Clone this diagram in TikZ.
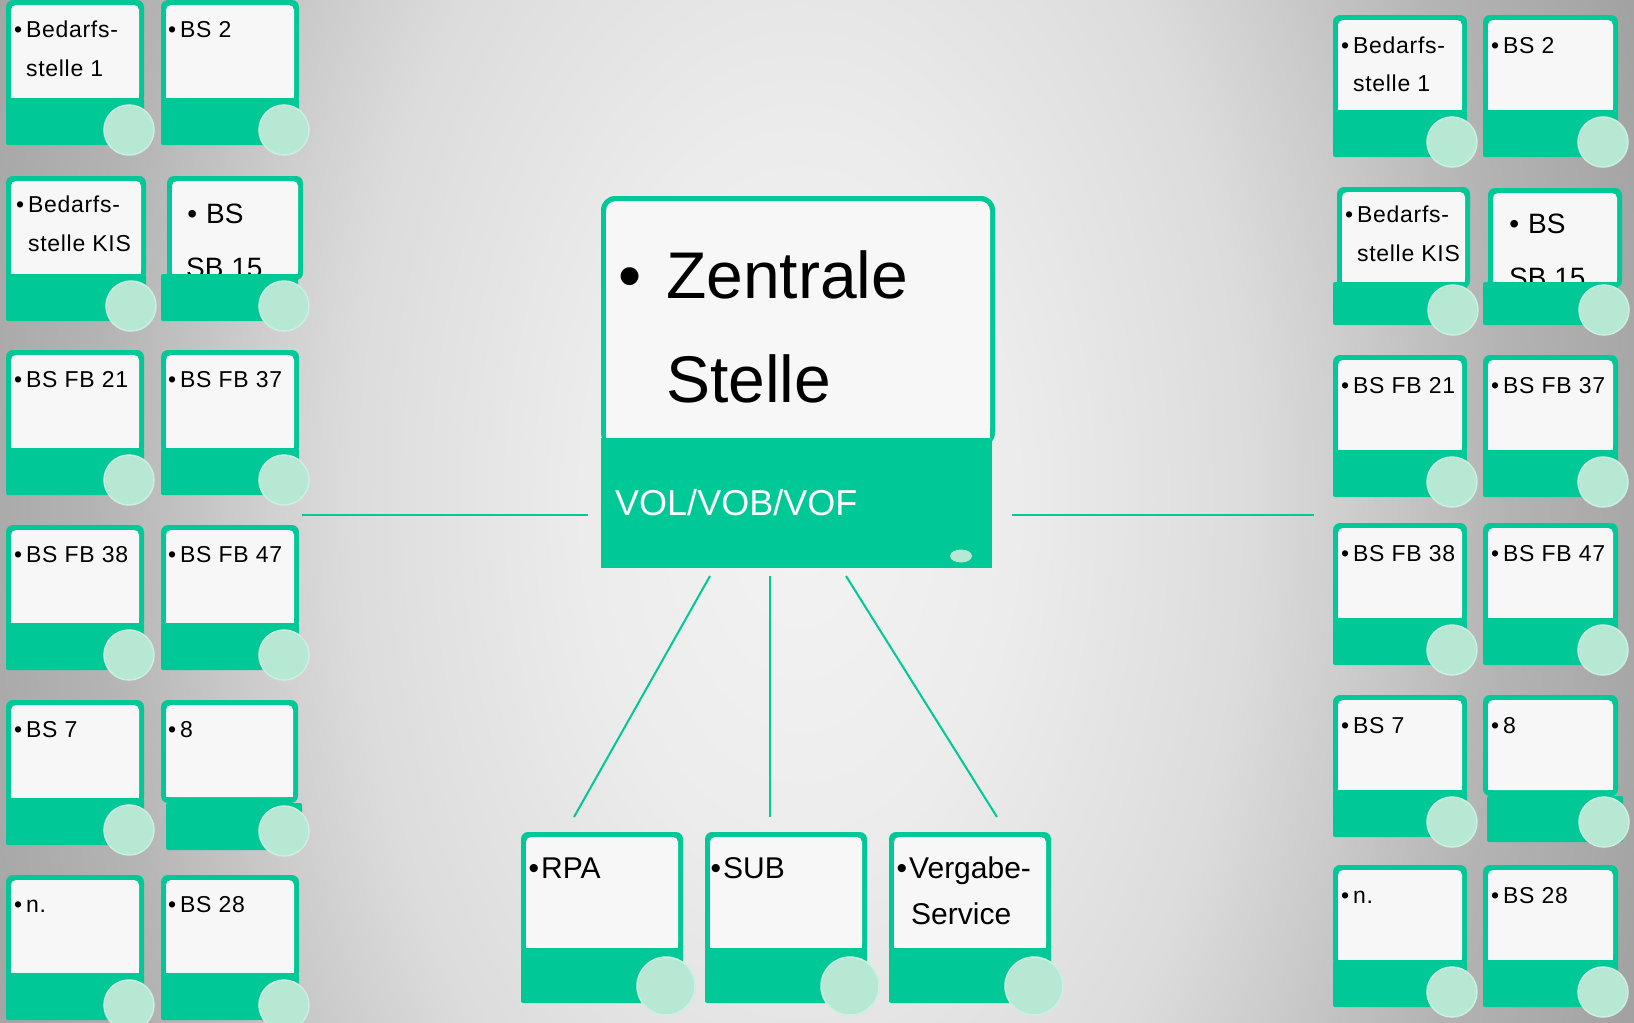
\documentclass[tikz,border=0pt]{standalone}
\usepackage{fontspec}
\setmainfont{Liberation Sans}
\newfontfamily\cardfont[LetterSpace=3.0]{Liberation Sans}
\usetikzlibrary{shapes.geometric}
\definecolor{tealc}{HTML}{00C896}
\definecolor{mintc}{HTML}{B6E8D3}
\definecolor{mintrim}{HTML}{CBEFE0}
\definecolor{cardw}{HTML}{F7F7F7}
\definecolor{bgA}{HTML}{F3F3F3}
\definecolor{bgB}{HTML}{ECECEC}
\definecolor{bgC}{HTML}{DCDCDC}
\definecolor{bgD}{HTML}{CCCCCC}
\definecolor{bgE}{HTML}{B4B4B4}
\definecolor{bgF}{HTML}{A8A8A8}
\definecolor{bgG}{HTML}{A0A0A0}
\pgfdeclareradialshading{bgshade}{\pgfpoint{0bp}{0bp}}{color(0bp)=(bgA); color(6bp)=(bgB); color(12.5bp)=(bgC); color(15.5bp)=(bgD); color(19.5bp)=(bgE); color(23bp)=(bgF); color(25bp)=(bgG); color(50bp)=(bgG)}
\tikzset{
  knob/.style={circle, fill=mintc, draw=mintrim, line width=1.5pt, inner sep=0pt, minimum size=50pt},
  bigknob/.style={knob, minimum size=58pt},
  smalltxt/.style={anchor=base west, inner sep=0pt, font=\cardfont\fontsize{23}{27}\selectfont},
  bigtxt/.style={anchor=base west, inner sep=0pt, font=\fontsize{28}{32}\selectfont},
  midtxt/.style={anchor=base west, inner sep=0pt, font=\fontsize{30}{34}\selectfont},
  conn/.style={draw=tealc, line width=2pt},
}
\newcommand{\topcard}[4]{% x y w white-height
  \fill[tealc, rounded corners=7pt] (#1,#2) rectangle (#1+#3,#2+#4+6);
  \fill[cardw, rounded corners=5pt] (#1+5,#2+5) rectangle (#1+#3-5,#2+#4);
  \fill[cardw] (#1+5,#2+#4-8) rectangle (#1+#3-5,#2+#4);
}
\newcommand{\bandc}[4]{% x1 y1 x2 y2
  \fill[tealc, rounded corners=2pt] (#1,#2) rectangle (#3,#4);
}
\newcommand{\card}[6]{% name x y w h white-height
  \topcard{#2}{#3}{#4}{#6}
  \bandc{#2}{#3+#6}{#2+#4}{#3+#5}
  \node[knob] (#1) at (#2+#4-15,#3+#5-15) {};
}
\newcommand{\bul}{\llap{•\hspace{4pt}}}
\begin{document}
\begin{tikzpicture}[x=1pt,y=-1pt]
\useasboundingbox (0,0) rectangle (1634,1023);
\begin{scope}
  \clip (0,0) rectangle (1634,1023);
  \shade[shading=bgshade] (800-900,500-1500) rectangle (800+900,500+1500);
\end{scope}

% ---------- connectors ----------
\coordinate (hlA) at (302,515); \coordinate (hlB) at (588,515);
\coordinate (hrA) at (1012,515); \coordinate (hrB) at (1314,515);
\coordinate (d1a) at (710,576); \coordinate (d1b) at (574,817);
\coordinate (d2a) at (770,576); \coordinate (d2b) at (770,817);
\coordinate (d3a) at (846,576); \coordinate (d3b) at (997,817);
\draw[conn] (hlA) -- (hlB);
\draw[conn] (hrA) -- (hrB);
\draw[conn] (d1a) -- (d1b);
\draw[conn] (d2a) -- (d2b);
\draw[conn] (d3a) -- (d3b);

% ---------- central box ----------
\fill[tealc, rounded corners=14pt] (601,196) rectangle (995,447);
\fill[cardw, rounded corners=10pt] (606,201) rectangle (990,438);
\fill[cardw] (606,420) rectangle (990,438);
\fill[tealc] (601,438) rectangle (992,568);
\node[inner sep=0pt, minimum width=394pt, minimum height=372pt] (zentral) at (798,382) {};
\node[anchor=base west, inner sep=0pt, font=\fontsize{66}{70}\selectfont] (zt1) at (666,298) {\llap{•\hspace{25pt}}Zentrale};
\node[anchor=base west, inner sep=0pt, font=\fontsize{66}{70}\selectfont] (zt2) at (666,402) {Stelle};
\node[anchor=base west, inner sep=0pt, text=white, font=\fontsize{36}{40}\selectfont] (vol) at (615,515) {VOL/VOB/VOF};
\node[ellipse, fill=mintc, inner sep=0pt, minimum width=22pt, minimum height=13pt] (zdot) at (961,556) {};

% ---------- bottom boxes ----------
\topcard{521}{832}{162}{116}
\bandc{521}{948}{683}{1003}
\node[bigknob] (kRPA) at (666,986) {};
\node[midtxt] (tRPA) at (541,878) {\llap{•\hspace{2pt}}RPA};

\topcard{705}{832}{162}{116}
\bandc{705}{948}{867}{1003}
\node[bigknob] (kSUB) at (850,986) {};
\node[midtxt] (tSUB) at (723,878) {\llap{•\hspace{2pt}}SUB};

\topcard{889}{832}{162}{116}
\bandc{889}{948}{1051}{1003}
\node[bigknob] (kVS) at (1034,986) {};
\node[midtxt] (tVSa) at (909,878) {\llap{•\hspace{2pt}}Vergabe-};
\node[midtxt] (tVSb) at (911,924) {Service};

% ---------- left column ----------
\card{kl11}{6}{0}{138}{145}{98}
\node[smalltxt] (tl11a) at (26,37) {\bul Bedarfs-};
\node[smalltxt] (tl11b) at (26,76) {stelle 1};
\card{kl12}{161}{0}{138}{145}{98}
\node[smalltxt] (tl12) at (180,37) {\bul BS 2};

\card{kl21}{6}{176}{140}{145}{98}
\node[smalltxt] (tl21a) at (28,212) {\bul Bedarfs-};
\node[smalltxt] (tl21b) at (28,251) {stelle KIS};
\topcard{167}{176}{136}{98}
\node[bigtxt] (tl22a) at (206,223) {\llap{•\hspace{9pt}}BS};
\node[bigtxt] (tl22b) at (186,277) {SB 15};
\bandc{161}{274}{298}{321}
\node[knob] (kl22) at (284,306) {};

\card{kl31}{6}{350}{138}{145}{98}
\node[smalltxt] (tl31) at (26,387) {\bul BS FB 21};
\card{kl32}{161}{350}{138}{145}{98}
\node[smalltxt] (tl32) at (180,387) {\bul BS FB 37};

\card{kl41}{6}{525}{138}{145}{98}
\node[smalltxt] (tl41) at (26,562) {\bul BS FB 38};
\card{kl42}{161}{525}{138}{145}{98}
\node[smalltxt] (tl42) at (180,562) {\bul BS FB 47};

\card{kl51}{6}{700}{138}{145}{98}
\node[smalltxt] (tl51) at (26,737) {\bul BS 7};
\topcard{161}{700}{137}{97}
\node[smalltxt] (tl52) at (180,737) {\bul 8};
\bandc{166}{803}{302}{850}
\node[knob] (kl52) at (284,831) {};

\card{kl61}{6}{875}{138}{145}{98}
\node[smalltxt] (tl61) at (26,912) {\bul n.};
\card{kl62}{161}{875}{138}{145}{98}
\node[smalltxt] (tl62) at (180,912) {\bul BS 28};

% ---------- right column ----------
\card{kr11}{1333}{15}{134}{142}{95}
\node[smalltxt] (tr11a) at (1353,53) {\bul Bedarfs-};
\node[smalltxt] (tr11b) at (1353,91) {stelle 1};
\card{kr12}{1483}{15}{135}{142}{95}
\node[smalltxt] (tr12) at (1503,53) {\bul BS 2};

\topcard{1337}{187}{133}{95}
\node[smalltxt] (tr21a) at (1357,222) {\bul Bedarfs-};
\node[smalltxt] (tr21b) at (1357,261) {stelle KIS};
\bandc{1333}{282}{1467}{325}
\node[knob] (kr21) at (1453,310) {};
\topcard{1488}{188}{134}{94}
\node[bigtxt] (tr22a) at (1528,233) {\llap{•\hspace{9pt}}BS};
\node[bigtxt] (tr22b) at (1509,287) {SB 15};
\bandc{1483}{282}{1618}{325}
\node[knob] (kr22) at (1604,310) {};

\card{kr31}{1333}{355}{134}{142}{95}
\node[smalltxt] (tr31) at (1353,393) {\bul BS FB 21};
\card{kr32}{1483}{355}{135}{142}{95}
\node[smalltxt] (tr32) at (1503,393) {\bul BS FB 37};

\card{kr41}{1333}{523}{134}{142}{95}
\node[smalltxt] (tr41) at (1353,561) {\bul BS FB 38};
\card{kr42}{1483}{523}{135}{142}{95}
\node[smalltxt] (tr42) at (1503,561) {\bul BS FB 47};

\card{kr51}{1333}{695}{134}{142}{95}
\node[smalltxt] (tr51) at (1353,733) {\bul BS 7};
\topcard{1483}{695}{135}{95}
\node[smalltxt] (tr52) at (1503,733) {\bul 8};
\bandc{1487}{796}{1623}{842}
\node[knob] (kr52) at (1604,822) {};

\card{kr61}{1333}{865}{134}{142}{95}
\node[smalltxt] (tr61) at (1353,903) {\bul n.};
\card{kr62}{1483}{865}{135}{142}{95}
\node[smalltxt] (tr62) at (1503,903) {\bul BS 28};
\end{tikzpicture}
\end{document}
